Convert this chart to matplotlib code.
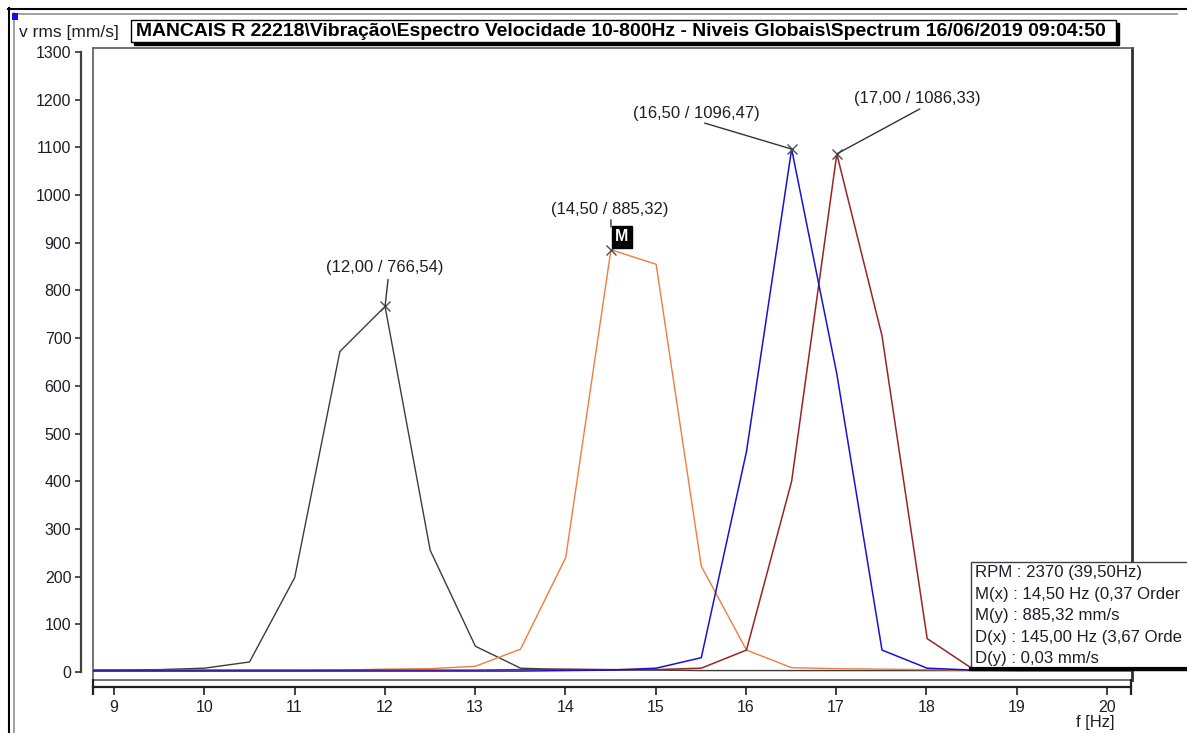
import matplotlib
matplotlib.use('Agg')
import matplotlib.pyplot as plt
from matplotlib.patches import Rectangle
from matplotlib.lines import Line2D

W, H = 1187, 733

# ---------------- data ----------------
freq = [8.5, 9.0, 9.5, 10.0, 10.5, 11.0, 11.5, 12.0, 12.5, 13.0, 13.5, 14.0, 14.5,
        15.0, 15.5, 16.0, 16.5, 17.0, 17.5, 18.0, 18.5, 19.0, 19.5, 20.0, 20.5]

v_black = [4, 4, 5, 8, 21, 198, 672, 766.54, 255, 54, 8, 5, 4,
           4, 3, 3, 3, 3, 3, 3, 3, 3, 3, 3, 3]
v_orange = [3, 3, 3, 3, 3, 3, 4, 6, 7, 12, 48, 240, 885.32,
            855, 222, 46, 9, 7, 6, 5, 4, 4, 3, 3, 3]
v_blue = [2, 2, 2, 2, 2, 2, 2, 2, 2, 2, 2, 3, 4,
          8, 30, 462, 1096.47, 625, 46, 8, 4, 3, 3, 3, 3]
v_red = [4, 4, 4, 4, 4, 4, 4, 4, 4, 4, 5, 6, 5,
         5, 8, 46, 400, 1086.33, 705, 70, 7, 4, 4, 4, 4]

peak_f = [12.00, 14.50, 16.50, 17.00]
peak_v = [766.54, 885.32, 1096.47, 1086.33]
peak_lbl = ['(12,00 / 766,54)', '(14,50 / 885,32)', '(16,50 / 1096,47)', '(17,00 / 1086,33)']

x_ticks = [9, 10, 11, 12, 13, 14, 15, 16, 17, 18, 19, 20]
y_ticks = [0, 100, 200, 300, 400, 500, 600, 700, 800, 900, 1000, 1100, 1200, 1300]

title = 'MANCAIS R 22218\\Vibração\\Espectro Velocidade 10-800Hz - Niveis Globais\\Spectrum 16/06/2019 09:04:50'
y_label = 'v rms [mm/s]'
x_label = 'f [Hz]'
info_lines = ['RPM : 2370 (39,50Hz)', 'M(x) : 14,50 Hz (0,37 Order',
              'M(y) : 885,32 mm/s', 'D(x) : 145,00 Hz (3,67 Orde', 'D(y) : 0,03 mm/s']

c_black = '#3c3c3c'
c_orange = '#f07c3e'
c_blue = '#1414d2'
c_red = '#9a2424'
txt_c = '#1e1e28'

plt.rcParams['font.family'] = ['Liberation Sans', 'DejaVu Sans']

fig = plt.figure(figsize=(W / 100, H / 100), dpi=100)


def fx(x):
    return x / W


def fy(y):
    return 1 - y / H


XMIN, XMAX = 8.7676, 20.267
YMIN, YMAX = -16.77, 1308.4

# ---------------- main plot area ----------------
ax = fig.add_axes([fx(93), fy(680), fx(1132) - fx(93), fy(48) - fy(680)])
ax.set_xlim(XMIN, XMAX)
ax.set_ylim(YMIN, YMAX)
ax.set_xticks([])
ax.set_yticks([])
for s in ax.spines.values():
    s.set_color('#5a5a5a')
    s.set_linewidth(1.2)
ax.spines['right'].set_linewidth(2.0)
ax.spines['right'].set_color('#303030')

ax.plot(freq, v_black, color=c_black, lw=1.0, zorder=3)
ax.plot(freq, v_orange, color=c_orange, lw=1.0, zorder=3)
ax.plot(freq, v_red, color=c_red, lw=1.1, zorder=3)
ax.plot(freq, v_blue, color=c_blue, lw=1.1, zorder=4)

ax.plot(peak_f, peak_v, linestyle='none', marker='x', ms=7, mew=1.0, color='#505050', zorder=6)

# annotations (offsets in pixels relative to the peaks)
lbl_off = [(0, 39), (-1, 40), (-95, 36), (80, 55)]
lead_from = [(3, 27), (0, 30), (-87, 26), (83, 45)]
lead_shrink = [0, 16.5, 0, 0]  # points cut from the peak end of the leader
for f, v, lbl, lo, lf, sh in zip(peak_f, peak_v, peak_lbl, lbl_off, lead_from, lead_shrink):
    ax.annotate(lbl, xy=(f, v), xytext=lo, textcoords='offset pixels',
                ha='center', va='center', fontsize=12, color=txt_c, zorder=7)
    ax.annotate('', xy=(f, v), xytext=lf, textcoords='offset pixels',
                arrowprops=dict(arrowstyle='-', color='#333333', lw=1.0,
                                shrinkA=0, shrinkB=sh, relpos=(0.5, 0.5)), zorder=6)
ax.annotate('M', xy=(peak_f[1], peak_v[1]), xytext=(11, 13), textcoords='offset pixels',
            ha='center', va='center', fontsize=11.5, fontweight='bold', color='white',
            bbox=dict(boxstyle='square,pad=0.22', fc='black', ec='black'), zorder=8)

# ---------------- x axis ----------------
axx = fig.add_axes([fx(93), fy(687), fx(1131) - fx(93), 0.0001])
axx.set_xlim(XMIN, XMAX)
axx.set_ylim(0, 1)
axx.patch.set_visible(False)
for k in ['top', 'left', 'right']:
    axx.spines[k].set_visible(False)
axx.spines['bottom'].set_color('#202020')
axx.spines['bottom'].set_linewidth(1.6)
axx.set_yticks([])
axx.set_xticks(x_ticks)
axx.set_xticklabels([str(t) for t in x_ticks])
axx.tick_params(axis='x', direction='out', length=6, width=1.2, color='#202020',
                labelsize=11.5, labelcolor=txt_c, pad=3)
axx.plot([XMIN, XMAX], [0, 0], linestyle='none', marker='|', ms=12, mew=1.6,
         color='#202020', clip_on=False)

# ---------------- y axis ----------------
axy = fig.add_axes([fx(81), fy(680), 0.0001, fy(48) - fy(680)])
axy.set_ylim(YMIN, YMAX)
axy.patch.set_visible(False)
for k in ['top', 'bottom', 'right']:
    axy.spines[k].set_visible(False)
axy.spines['left'].set_color('#404040')
axy.spines['left'].set_linewidth(1.6)
axy.spines['left'].set_bounds(0, 1300)
axy.set_xticks([])
axy.set_yticks(y_ticks)
axy.set_yticklabels([str(t) for t in y_ticks])
axy.tick_params(axis='y', direction='out', length=4, width=1.2, color='#303030',
                labelsize=11.5, labelcolor=txt_c, pad=3)

# ---------------- outer frame ----------------
fig.add_artist(Line2D([fx(8), fx(1187)], [fy(8.5), fy(8.5)], color='black', lw=1.5))
fig.add_artist(Line2D([fx(13), fx(1177)], [fy(13.5), fy(13.5)], color='#909090', lw=1.2))
fig.add_artist(Line2D([fx(8.5), fx(8.5)], [fy(8), fy(733)], color='black', lw=1.5))
fig.add_artist(Line2D([fx(13.5), fx(13.5)], [fy(13), fy(733)], color='#909090', lw=1.2))
fig.add_artist(Rectangle((fx(12), fy(20)), fx(6) - fx(0), fy(0) - fy(7),
                         transform=fig.transFigure, fc='#1010e0', ec='none', zorder=5))

# y label
fig.text(fx(19), fy(32), y_label, ha='left', va='center', fontsize=12.5, color=txt_c)

# title box with shadow
fig.add_artist(Rectangle((fx(134), fy(45)), fx(1119) - fx(134), fy(23) - fy(45),
                         transform=fig.transFigure, fc='black', ec='black'))
fig.add_artist(Rectangle((fx(131), fy(42)), fx(1116) - fx(131), fy(20) - fy(42),
                         transform=fig.transFigure, fc='white', ec='black', lw=1.0))
fig.text(fx(136), fy(31.5), title, ha='left', va='center', fontsize=13.95,
         fontweight='bold', color='black')

# info box
fig.add_artist(Rectangle((fx(971), fy(670)), fx(1200) - fx(971), fy(562) - fy(670),
                         transform=fig.transFigure, fc='white', ec='#404040', lw=1.0, zorder=10))
fig.add_artist(Line2D([fx(971), fx(1187)], [fy(669), fy(669)], color='black', lw=3.0, zorder=11))
for i, line in enumerate(info_lines):
    fig.text(fx(975), fy(573 + 21.4 * i), line, ha='left', va='center', fontsize=12.1,
             color=txt_c, zorder=12)

# x label
fig.text(fx(1095), fy(722), x_label, ha='center', va='center', fontsize=12, color=txt_c)

fig.savefig('out.png', dpi=100)
